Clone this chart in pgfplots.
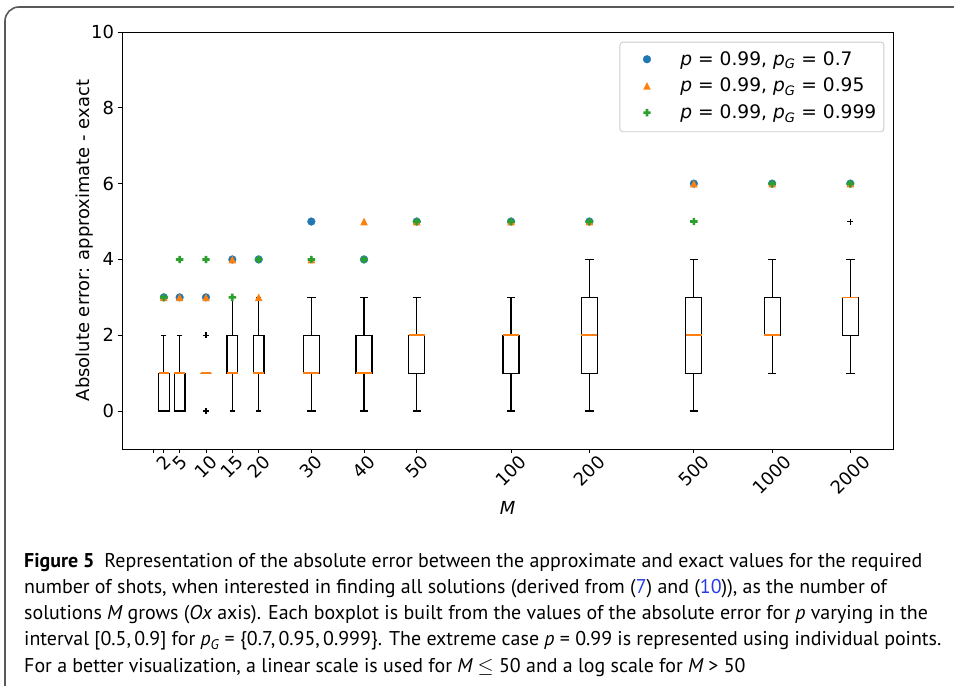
\documentclass[border=0pt]{standalone}
\usepackage{fontspec}
\setmainfont{DejaVu Sans}
\newfontfamily\capfont{PT Sans}
\usepackage{pgfplots}
\pgfplotsset{compat=1.18}
\usepgfplotslibrary{statistics}

\definecolor{c0}{HTML}{1F77B4}
\definecolor{c1}{HTML}{FF7F0E}
\definecolor{c2}{HTML}{2CA02C}
\definecolor{linkblue}{RGB}{40,60,230}
\definecolor{framegray}{gray}{0.35}

% filled plus and upward triangle markers
\pgfdeclareplotmark{fatplus}{%
  \pgfpathmoveto{\pgfpoint{-0.36\pgfplotmarksize}{\pgfplotmarksize}}%
  \pgfpathlineto{\pgfpoint{0.36\pgfplotmarksize}{\pgfplotmarksize}}%
  \pgfpathlineto{\pgfpoint{0.36\pgfplotmarksize}{0.36\pgfplotmarksize}}%
  \pgfpathlineto{\pgfpoint{\pgfplotmarksize}{0.36\pgfplotmarksize}}%
  \pgfpathlineto{\pgfpoint{\pgfplotmarksize}{-0.36\pgfplotmarksize}}%
  \pgfpathlineto{\pgfpoint{0.36\pgfplotmarksize}{-0.36\pgfplotmarksize}}%
  \pgfpathlineto{\pgfpoint{0.36\pgfplotmarksize}{-\pgfplotmarksize}}%
  \pgfpathlineto{\pgfpoint{-0.36\pgfplotmarksize}{-\pgfplotmarksize}}%
  \pgfpathlineto{\pgfpoint{-0.36\pgfplotmarksize}{-0.36\pgfplotmarksize}}%
  \pgfpathlineto{\pgfpoint{-\pgfplotmarksize}{-0.36\pgfplotmarksize}}%
  \pgfpathlineto{\pgfpoint{-\pgfplotmarksize}{0.36\pgfplotmarksize}}%
  \pgfpathlineto{\pgfpoint{-0.36\pgfplotmarksize}{0.36\pgfplotmarksize}}%
  \pgfpathclose\pgfusepathqfill}
\pgfdeclareplotmark{mtri}{%
  \pgfpathmoveto{\pgfpoint{0pt}{\pgfplotmarksize}}%
  \pgfpathlineto{\pgfpoint{-\pgfplotmarksize}{-\pgfplotmarksize}}%
  \pgfpathlineto{\pgfpoint{\pgfplotmarksize}{-\pgfplotmarksize}}%
  \pgfpathclose\pgfusepathqfill}

\newcommand\rl[1]{\rotatebox{45}{#1}}
\newcommand\capsub{{\itshape p}\textsubscript{\itshape G}}

\pgfplotsset{
  boxplot/every box/.style={draw=black, line width=1.2bp},
  boxplot/every whisker/.style={draw=black, line width=1.2bp},
  bx/.style={black, line width=1.2bp, mark=+, mark size=3bp, forget plot,
    boxplot/draw direction=y},
}

\begin{document}
\begin{tikzpicture}
\path[use as bounding box] (0,0) rectangle (954bp,686bp);
\begin{scope}
  \clip (0,0) rectangle (954bp,686bp);
  \draw[framegray, line width=1.6bp, rounded corners=14bp]
    (990bp,679bp) -- (5bp,679bp) -- (5bp,-30bp);
\end{scope}

\begin{axis}[
  at={(122bp,237bp)}, anchor=south west,
  scale only axis, width=771bp, height=417bp,
  xmin=-5.94, xmax=140.4, ymin=-1, ymax=10,
  axis line style={black, line width=0.9bp},
  tick style={black, line width=0.9bp},
  tick align=outside, major tick length=4.5bp,
  tick pos=left,
  ytick={0,2,4,6,8,10},
  xtick={0,2,5,10,15,20,30,40,50,67.9,82.77,102.6,117.46,132.3},
  xticklabels={{},\rl{2},\rl{5},\rl{10},\rl{15},\rl{20},\rl{30},\rl{40},\rl{50},
    \rl{100},\rl{200},\rl{500},\rl{1000},\rl{2000}},
  /pgf/number format/assume math mode=true,
  ticklabel style={font=\fontsize{18}{21}\selectfont},
  xticklabel style={anchor=north, inner sep=0pt},
  ylabel={Absolute error: approximate - exact},
  ylabel style={font=\fontsize{18}{21}\selectfont, at={(axis description cs:0,0.5)},
    anchor=south, inner sep=0pt, yshift=29bp},
  xlabel={\itshape M},
  xlabel style={font=\fontsize{18}{21}\selectfont, at={(axis description cs:0.5,0)},
    anchor=north, inner sep=0pt, yshift=-52bp},
  legend style={at={(axis description cs:1,1)}, anchor=north east,
    xshift=-8.7bp, yshift=-9.7bp, draw=black!20, line width=0.9bp,
    rounded corners=3bp, inner xsep=7.6bp, inner ysep=8.6bp,
    font=\fontsize{18.7}{21}\selectfont, row sep=7.7bp, column sep=23bp,
    nodes={inner sep=0pt, text height=14.5bp, text depth=4.5bp}},
  legend cell align=left,
  legend image code/.code={%
    \path (-19bp,0bp) (10bp,0bp);
    \draw[mark repeat=1,#1] plot coordinates {(0bp,1bp)};},
]

% p = 0.99 cases, one series per p_G
\addplot[only marks, mark=*, mark size=3.9bp, color=c0, mark options={line width=0.3bp}]
  coordinates {(2,3) (5,3) (10,3) (15,4) (20,4) (30,5) (40,4) (50,5)
               (67.9,5) (82.77,5) (102.6,6) (117.46,6) (132.3,6)};
\addplot[only marks, mark=mtri, mark size=3.8bp, color=c1, mark options={line width=0.3bp}]
  coordinates {(2,3) (5,3) (10,3) (15,4) (20,3) (30,4) (40,5) (50,5)
               (67.9,5) (82.77,5) (102.6,6) (117.46,6) (132.3,6)};
\addplot[only marks, mark=fatplus, mark size=3.7bp, color=c2, mark options={line width=0.3bp}]
  coordinates {(2,3) (5,4) (10,4) (15,3) (20,4) (30,4) (40,4) (50,5)
               (67.9,5) (82.77,5) (102.6,5) (117.46,6) (132.3,6)};
\legend{{{\itshape p} = 0.99, {\itshape p}\textsubscript{\itshape G} = 0.7},
        {{\itshape p} = 0.99, {\itshape p}\textsubscript{\itshape G} = 0.95},
        {{\itshape p} = 0.99, {\itshape p}\textsubscript{\itshape G} = 0.999}}

% boxplots for p in [0.5, 0.9]
\addplot[bx, boxplot prepared={draw position=2, lower whisker=0, lower quartile=0,
  median=1, upper quartile=1, upper whisker=2, box extend=2, whisker extend=1}] coordinates {};
\addplot[bx, boxplot prepared={draw position=5, lower whisker=0, lower quartile=0,
  median=1, upper quartile=1, upper whisker=2, box extend=2, whisker extend=1}] coordinates {};
\addplot[bx, boxplot prepared={draw position=10, lower whisker=1, lower quartile=1,
  median=1, upper quartile=1, upper whisker=1, box extend=2, whisker extend=1}]
  table[row sep=\\, y index=0] {0\\ 2\\};
\addplot[bx, boxplot prepared={draw position=15, lower whisker=0, lower quartile=1,
  median=1, upper quartile=2, upper whisker=3, box extend=2, whisker extend=1}] coordinates {};
\addplot[bx, boxplot prepared={draw position=20, lower whisker=0, lower quartile=1,
  median=1, upper quartile=2, upper whisker=3, box extend=2, whisker extend=1}] coordinates {};
\addplot[bx, boxplot prepared={draw position=30, lower whisker=0, lower quartile=1,
  median=1, upper quartile=2, upper whisker=3, box extend=3.04, whisker extend=1.6}] coordinates {};
\addplot[bx, boxplot prepared={draw position=40, lower whisker=0, lower quartile=1,
  median=1, upper quartile=2, upper whisker=3, box extend=3.04, whisker extend=1.6}] coordinates {};
\addplot[bx, boxplot prepared={draw position=50, lower whisker=0, lower quartile=1,
  median=2, upper quartile=2, upper whisker=3, box extend=3.04, whisker extend=1.6}] coordinates {};
\addplot[bx, boxplot prepared={draw position=67.9, lower whisker=0, lower quartile=1,
  median=2, upper quartile=2, upper whisker=3, box extend=3.04, whisker extend=1.6}] coordinates {};
\addplot[bx, boxplot prepared={draw position=82.77, lower whisker=0, lower quartile=1,
  median=2, upper quartile=3, upper whisker=4, box extend=3.04, whisker extend=1.6}] coordinates {};
\addplot[bx, boxplot prepared={draw position=102.6, lower whisker=0, lower quartile=1,
  median=2, upper quartile=3, upper whisker=4, box extend=3.04, whisker extend=1.6}] coordinates {};
\addplot[bx, boxplot prepared={draw position=117.46, lower whisker=1, lower quartile=2,
  median=2, upper quartile=3, upper whisker=4, box extend=3.04, whisker extend=1.6}] coordinates {};
\addplot[bx, boxplot prepared={draw position=132.3, lower whisker=1, lower quartile=2,
  median=3, upper quartile=3, upper whisker=4, box extend=3.04, whisker extend=1.6}]
  table[row sep=\\, y index=0] {5\\};

% median lines across each box
\addplot[draw=c1, line width=1.6bp, unbounded coords=jump, forget plot] coordinates {
  (1,1) (3,1) (3.5,nan) (4,1) (6,1) (7,nan) (9,1) (11,1) (12,nan)
  (14,1) (16,1) (17,nan) (19,1) (21,1) (22,nan)
  (28.48,1) (31.52,1) (33,nan) (38.48,1) (41.52,1) (43,nan)
  (48.48,2) (51.52,2) (53,nan) (66.38,2) (69.42,2) (71,nan)
  (81.25,2) (84.29,2) (86,nan) (101.08,2) (104.12,2) (106,nan)
  (115.94,2) (118.98,2) (120,nan) (130.78,3) (133.82,3)};
\end{axis}

% caption
\begin{scope}[every node/.style={anchor=base west, inner sep=0pt,
    font=\capfont\fontsize{20}{23}\selectfont}]
\node at (24bp,118bp) {{\bfseries Figure 5}\hspace{0.5em}Representation of the absolute error between the approximate and exact values for the required};
\node at (24bp,92bp) {number of shots, when interested in finding all solutions (derived from (\textcolor{linkblue}{7}) and (\textcolor{linkblue}{10})), as the number of};
\node at (24bp,66bp) {solutions {\itshape M} grows ({\itshape Ox} axis). Each boxplot is built from the values of the absolute error for {\itshape p} varying in the};
\node at (24bp,40bp) {interval [0.5,\,0.9] for \capsub{} = \{0.7,\,0.95,\,0.999\}. The extreme case {\itshape p} = 0.99 is represented using individual points.};
\node at (24bp,14bp) {For a better visualization, a linear scale is used for {\itshape M} $\leq$ 50 and a log scale for {\itshape M} > 50};
\end{scope}
\end{tikzpicture}
\end{document}
